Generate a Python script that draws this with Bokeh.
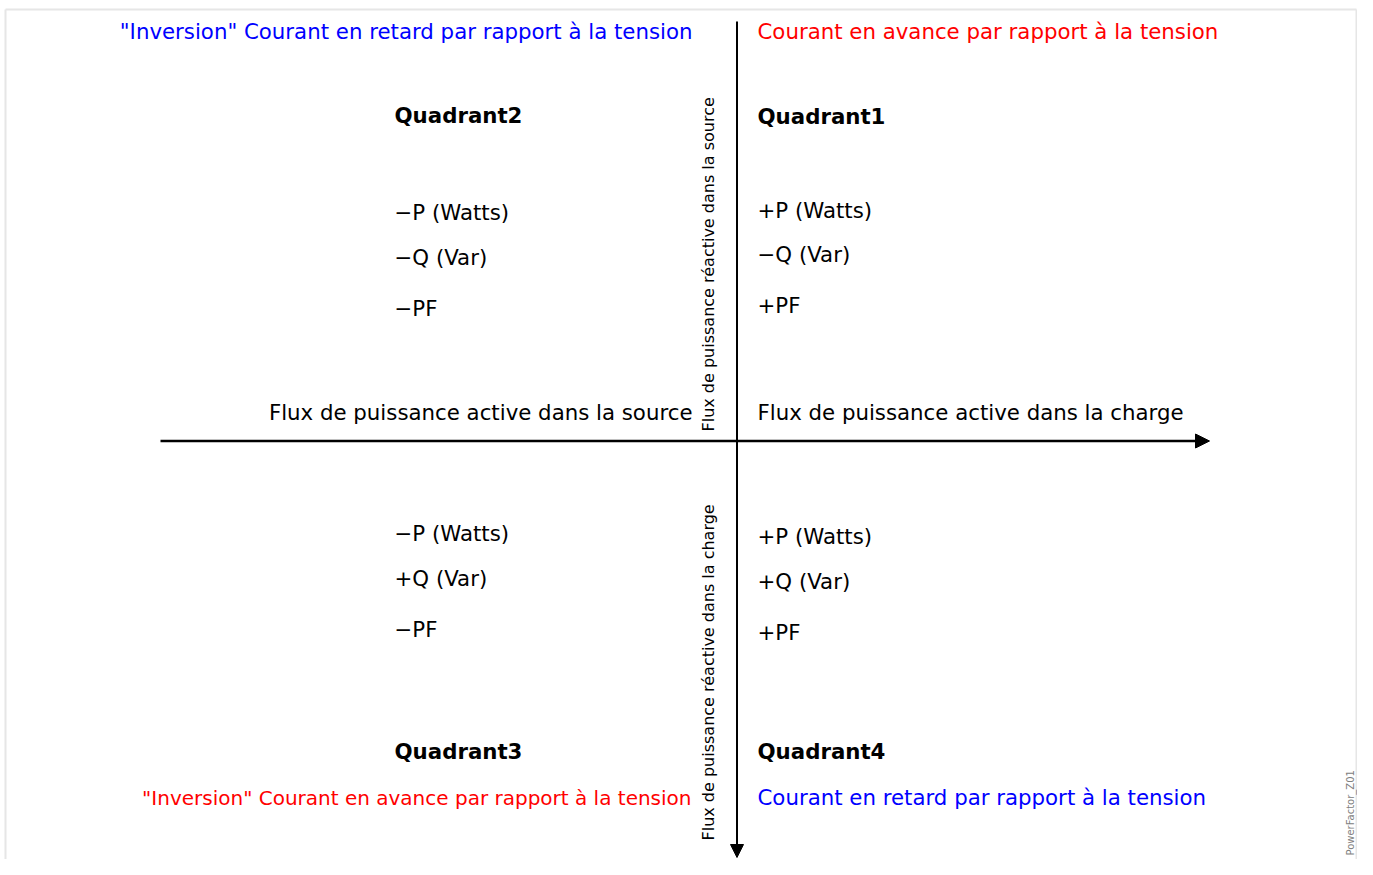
import math
from bokeh.plotting import figure
from bokeh.models import Range1d, Arrow, NormalHead
from bokeh.core.properties import value
from bokeh.embed import file_html
from bokeh.resources import INLINE

# ---- content ----
header_left = '"Inversion" Courant en retard par rapport à la tension'
header_right = "Courant en avance par rapport à la tension"
footer_left = '"Inversion" Courant en avance par rapport à la tension'
footer_right = "Courant en retard par rapport à la tension"
quadrants = ["Quadrant1", "Quadrant2", "Quadrant3", "Quadrant4"]
q1_labels = ["+P (Watts)", "\u2212Q (Var)", "+PF"]
q2_labels = ["\u2212P (Watts)", "\u2212Q (Var)", "\u2212PF"]
q3_labels = ["\u2212P (Watts)", "+Q (Var)", "\u2212PF"]
q4_labels = ["+P (Watts)", "+Q (Var)", "+PF"]
active_source = "Flux de puissance active dans la source"
active_load = "Flux de puissance active dans la charge"
reactive_source = "Flux de puissance réactive dans la source"
reactive_load = "Flux de puissance réactive dans la charge"
tag = "PowerFactor_Z01"

# ---- layout (picture pixel coordinates) ----
W, H = 1357, 859
FONT = value("DejaVu Sans")
BLUE = "#0000ff"
RED = "#ff0000"
MAIN = "21.3px"

p = figure(width=W, height=H, output_backend="svg", toolbar_location=None,
           x_range=Range1d(0, W), y_range=Range1d(-H, 0),
           min_border=0, outline_line_color=None)
p.axis.visible = False
p.grid.visible = False
p.background_fill_color = "white"
p.border_fill_color = "white"

# light frame (left, top, right)
p.segment(x0=[5, 5, 1356], y0=[-9, -9, -9], x1=[5, 1356, 1356], y1=[-875, -9, -875],
          line_color="#e6e6e6", line_width=2)

# axes arrows
p.add_layout(Arrow(end=NormalHead(size=14, fill_color="black", line_color="black"),
                   x_start=160, y_start=-440.5, x_end=1209, y_end=-440.5,
                   line_width=2.5, line_color="black"))
p.add_layout(Arrow(end=NormalHead(size=13, fill_color="black", line_color="black"),
                   x_start=736.5, y_start=-21, x_end=736.5, y_end=-857,
                   line_width=2, line_color="black"))


def txt(x, y, s, color="black", align="left", size=MAIN, style="normal", angle=0.0):
    p.text(x=[x], y=[-y], text=[s], text_color=color, text_align=align,
           text_baseline="alphabetic", text_font=FONT, text_font_size=size,
           text_font_style=style, angle=angle)


# header / footer
txt(692, 31, header_left, BLUE, "right")
txt(757, 31, header_right, RED)
txt(691, 797, footer_left, RED, "right", size="20px")
txt(757, 797, footer_right, BLUE)

# quadrant titles
txt(757, 116, quadrants[0], style="bold")
txt(394, 115, quadrants[1], style="bold")
txt(394, 751, quadrants[2], style="bold")
txt(757, 751, quadrants[3], style="bold")

# quadrant labels
for s, y in zip(q1_labels, [210, 254, 305]):
    txt(757, y, s)
for s, y in zip(q2_labels, [212, 257, 308]):
    txt(394, y, s)
for s, y in zip(q3_labels, [533, 578, 629]):
    txt(394, y, s)
for s, y in zip(q4_labels, [536, 581, 632]):
    txt(757, y, s)

# active power flow
txt(692, 412, active_source, align="right")
txt(757, 412, active_load)

# reactive power flow (vertical)
txt(708, 431, reactive_source, size="16px", angle=math.pi / 2)
txt(708, 840, reactive_load, size="16px", angle=math.pi / 2)

# tag
txt(1350, 855, tag, color="#808080", size="10px", angle=math.pi / 2)

open("out.html", "w").write(file_html(p, INLINE))
